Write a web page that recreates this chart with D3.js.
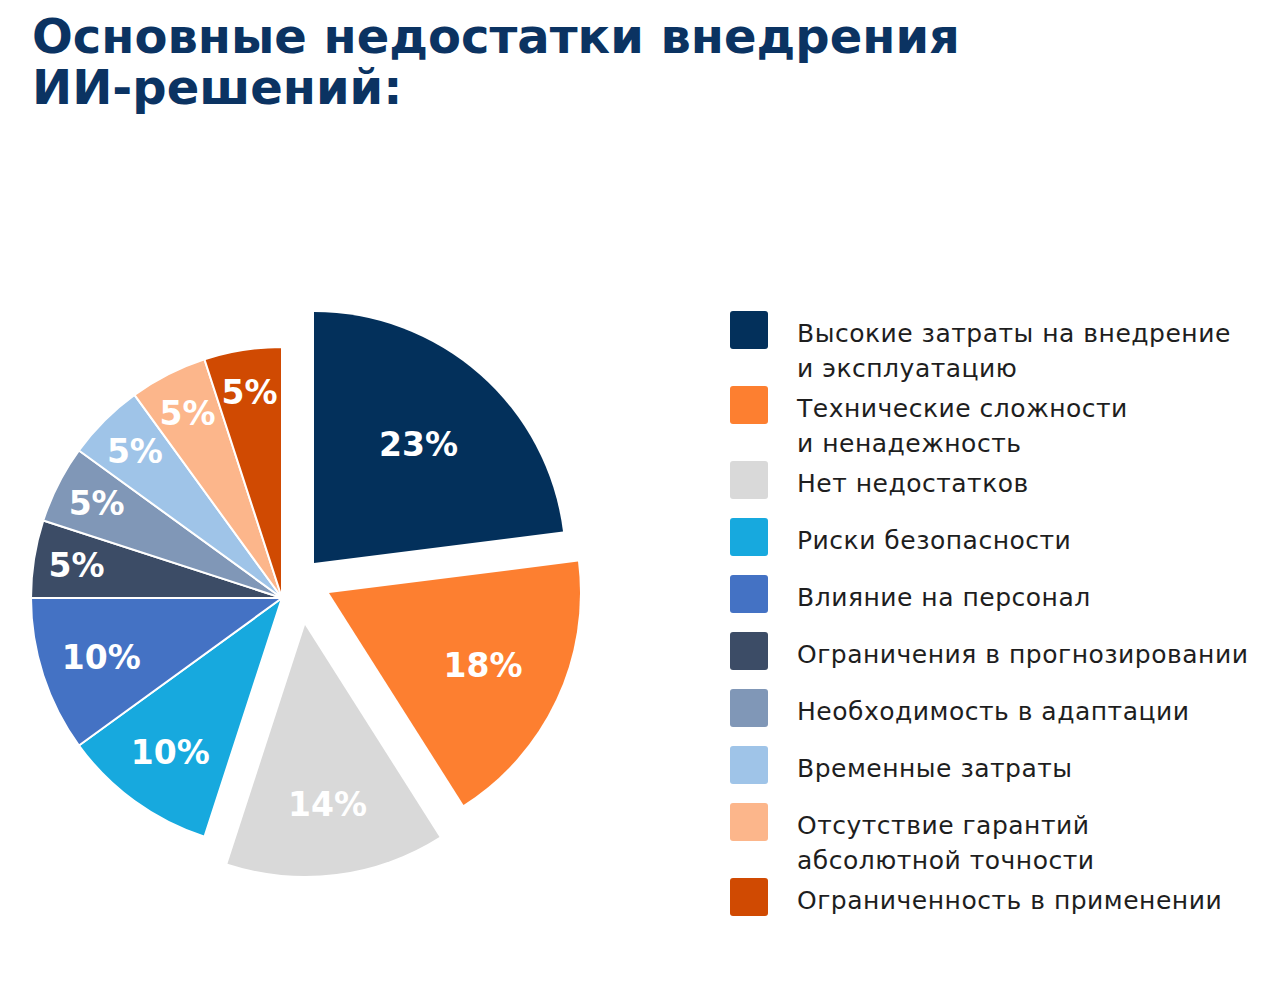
<!DOCTYPE html>
<html>
<head>
<meta charset="utf-8">
<script src="https://cdn.jsdelivr.net/npm/d3@7"></script>
<style>
  body { margin: 0; background: #fff; }
  svg { display: block; }
</style>
</head>
<body>
<svg id="chart" width="1280" height="993"></svg>
<script>
// data
var titleLines = ["Основные недостатки внедрения", "ИИ-решений:"];
var categories = [
  ["Высокие затраты на внедрение", "и эксплуатацию"],
  ["Технические сложности", "и ненадежность"],
  ["Нет недостатков"],
  ["Риски безопасности"],
  ["Влияние на персонал"],
  ["Ограничения в прогнозировании"],
  ["Необходимость в адаптации"],
  ["Временные затраты"],
  ["Отсутствие гарантий", "абсолютной точности"],
  ["Ограниченность в применении"]
];
var values = [23, 18, 14, 10, 10, 5, 5, 5, 5, 5];
var colors = ["#03305b", "#fd7f30", "#d9d9d9", "#17a9de", "#4472c4",
              "#3c4c66", "#8097b7", "#9fc4e8", "#fcb68b", "#d04a02"];

// layout
var cx = 282, cy = 598, R = 251;
var explode = { 0: [32, -35], 1: [47, -5], 2: [23, 27] };
var font = "'DejaVu Sans', sans-serif";

var svg = d3.select("#chart");

svg.append("g").attr("class", "title")
  .selectAll("text")
  .data(titleLines)
  .enter().append("text")
    .attr("x", 32)
    .attr("y", function(d, i) { return 53 + i * 51; })
    .style("font-family", font)
    .style("font-weight", "bold")
    .style("font-size", "48px")
    .style("fill", "#0b3362")
    .text(function(d) { return d; });

var pie = d3.pie().sort(null).value(function(d) { return d; });
var arcs = pie(values);
var arc = d3.arc().innerRadius(0).outerRadius(R);

// label distance from centre shrinks for the bigger slices
var labelR = d3.scaleLinear().domain([5, 10, 23]).range([208, 190, 158]);

var slices = svg.append("g")
  .attr("transform", "translate(" + cx + "," + cy + ")")
  .selectAll(".slice")
  .data(arcs)
  .enter().append("g")
    .attr("class", "slice")
    .attr("transform", function(d, i) {
      var o = explode[i] || [0, 0];
      return "translate(" + o[0] + "," + o[1] + ")";
    });

slices.append("path")
  .attr("d", arc)
  .style("fill", function(d, i) { return colors[i]; })
  .style("stroke", "#fff")
  .style("stroke-width", function(d, i) { return explode[i] ? 0 : 2; })
  .style("stroke-linejoin", "round");

slices.append("text")
  .attr("transform", function(d) {
    var r = labelR(d.value);
    var c = d3.arc().innerRadius(r).outerRadius(r).centroid(d);
    return "translate(" + c[0] + "," + c[1] + ")";
  })
  .attr("dy", "0.36em")
  .attr("text-anchor", "middle")
  .style("font-family", font)
  .style("font-weight", "bold")
  .style("font-size", "33px")
  .style("fill", "#fff")
  .text(function(d) { return d.value + "%"; });

// legend
var ly = 311, tops = [];
categories.forEach(function(c) {
  tops.push(ly);
  ly += 57 + (c.length - 1) * 18;
});

var legend = svg.append("g").attr("class", "legend")
  .selectAll(".item")
  .data(categories)
  .enter().append("g")
    .attr("class", "item")
    .attr("transform", function(d, i) { return "translate(730," + tops[i] + ")"; });

legend.append("rect")
  .attr("width", 38)
  .attr("height", 38)
  .attr("rx", 3)
  .style("fill", function(d, i) { return colors[i]; });

legend.append("text")
  .attr("x", 67)
  .attr("y", 31)
  .style("font-family", font)
  .style("font-size", "25px")
  .style("letter-spacing", "0.5px")
  .style("fill", "#1e1e1e")
  .selectAll("tspan")
  .data(function(d) { return d; })
  .enter().append("tspan")
    .attr("x", 67)
    .attr("dy", function(d, i) { return i ? 35 : 0; })
    .text(function(d) { return d; });
</script>
</body>
</html>
